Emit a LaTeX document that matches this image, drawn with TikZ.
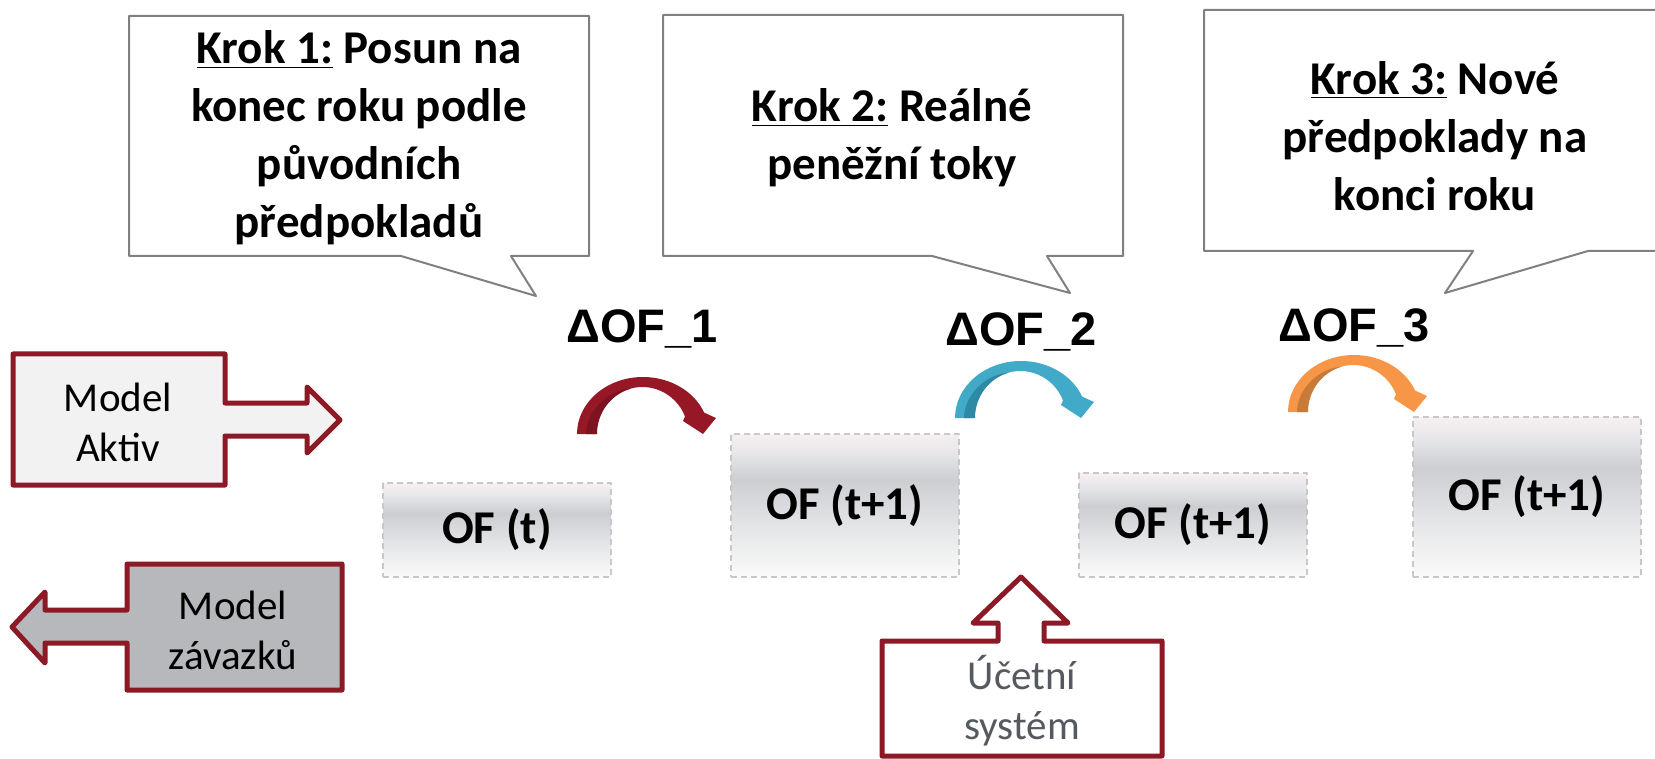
\documentclass[tikz,border=0pt]{standalone}
\usepackage{fontspec}
\setmainfont{Carlito}
\newfontfamily\arialfont{Liberation Sans}
\usetikzlibrary{positioning}

% ---- colours ----
\definecolor{modelred}{RGB}{139,26,38}
\definecolor{calloutgray}{RGB}{128,128,128}
\definecolor{dashgray}{RGB}{200,200,200}
\definecolor{aktivfill}{RGB}{242,242,242}
\definecolor{zavfill}{RGB}{183,184,188}
\definecolor{ucettext}{RGB}{85,89,96}
\definecolor{oftop}{RGB}{248,240,242}
\definecolor{ofmid}{RGB}{205,206,210}
\definecolor{oflow}{RGB}{229,230,232}
\definecolor{ofbot}{RGB}{250,250,250}
\definecolor{redarrow}{RGB}{150,24,38}
\definecolor{redshade}{RGB}{124,19,30}
\definecolor{bluearrow}{RGB}{64,170,200}
\definecolor{blueshade}{RGB}{46,138,164}
\definecolor{orangearrow}{RGB}{247,150,70}
\definecolor{orangeshade}{RGB}{200,122,56}

% box shading: 25bp = bottom of box, 75bp = top of box
\pgfdeclareverticalshading{ofshading}{100bp}{color(0bp)=(ofbot); color(25bp)=(ofbot);
  color(42bp)=(oflow); color(59bp)=(ofmid); color(68bp)=(oflow); color(75bp)=(oftop); color(100bp)=(oftop)}

% ---- curved step arrow, #1,#2 = outer foot, #3 = colour, #4 = shade ----
\newcommand{\steparc}[4]{%
  \begin{scope}[shift={(#1,#2)}]
    \fill[#3] (0,0) arc[start angle=180, end angle=338, x radius=66, y radius=57]
      -- (139,-16) -- (126,0) -- (106,-13) -- (108,-17.6)
      arc[start angle=338, end angle=180, x radius=46, y radius=47] -- cycle;
    \fill[#4] (20,0) arc[start angle=180, end angle=255, x radius=46, y radius=47]
      .. controls (30,-44) and (9,-22) .. (9,0) -- cycle;
  \end{scope}}

\begin{document}
\begin{tikzpicture}[
  x=0.5pt, y=-0.5pt, % one reference pixel
  line join=round,
  callout/.style={fill=white, draw=calloutgray, line width=1pt},
  blockarrow/.style={draw=modelred, line width=2.5pt},
  ofbox/.style={draw=dashgray, line width=0.75pt, dash pattern=on 3pt off 2pt,
    shading=ofshading, minimum width=114pt, inner sep=0pt,
    font=\bfseries\fontsize{23.5}{29}\selectfont},
  steptext/.style={font=\bfseries\fontsize{23.5}{29}\selectfont, align=center},
  deltalabel/.style={font=\arialfont\bfseries\fontsize{23.5}{28}\selectfont, anchor=base, inner sep=0pt},
  modeltext/.style={font=\fontsize{20.5}{25}\selectfont, align=center}
]
  \useasboundingbox (0,0) rectangle (1655,759);
  \clip (0,0) rectangle (1655,759);

  % ---- callouts ----
  \draw[callout] (129,16) -- (589,16) -- (589,256) -- (511,256) -- (536,296)
    -- (401,256) -- (129,256) -- cycle;
  \draw[callout] (663,15) -- (1123,15) -- (1123,256) -- (1047,256) -- (1070,293)
    -- (932,256) -- (663,256) -- cycle;
  \draw[callout] (1204,10) -- (1670,10) -- (1670,251) -- (1588,251) -- (1445,293)
    -- (1473,251) -- (1204,251) -- cycle;

  \node[steptext] (krok1) at (359,138) {\underline{Krok 1:} Posun na\\konec roku podle\\původních\\předpokladů};
  \node[steptext] (krok2) at (892,138) {\underline{Krok 2:} Reálné\\peněžní toky};
  \node[steptext] (krok3) at (1435,136) {\underline{Krok 3:} Nové\\předpoklady na\\konci roku};

  % ---- OF boxes ----
  \node[ofbox, minimum height=47pt] (oft) at (497,530) {OF (t)};
  \node[ofbox, minimum height=71.5pt] (ofa) at (845,505.5) {OF (t+1)};
  \node[ofbox, minimum height=52pt] (ofb) at (1193,525) {OF (t+1)};
  \node[ofbox, minimum height=80pt] (ofc) at (1527,497) {OF (t+1)};

  % ---- delta labels and arrows ----
  \node[deltalabel] (delta1) at (642,343) {ΔOF\_1};
  \node[deltalabel] (delta2) at (1021,345) {ΔOF\_2};
  \node[deltalabel] (delta3) at (1354,342) {ΔOF\_3};

  \steparc{577}{434}{redarrow}{redshade}
  \steparc{955}{418}{bluearrow}{blueshade}
  \steparc{1288}{412}{orangearrow}{orangeshade}

  % ---- block arrows ----
  \draw[blockarrow, fill=aktivfill] (13,354) -- (225,354) -- (225,403) -- (307,403)
    -- (307,387) -- (340,420) -- (307,453) -- (307,436) -- (225,436) -- (225,485)
    -- (13,485) -- cycle;
  \node[modeltext] (aktiv) at (118,422) {Model\\Aktiv};

  \draw[blockarrow, fill=zavfill] (342,564) -- (127,564) -- (127,610) -- (45,610)
    -- (45,592) -- (12,627) -- (45,663) -- (45,643) -- (127,643) -- (127,690)
    -- (342,690) -- cycle;
  \node[modeltext] (zavazky) at (233,630) {Model\\závazků};

  \draw[blockarrow, fill=white] (882,641) -- (998,641) -- (998,623) -- (973,623)
    -- (1021,577) -- (1068,623) -- (1044,623) -- (1044,641) -- (1162,641)
    -- (1162,756) -- (882,756) -- cycle;
  \node[modeltext, text=ucettext] (ucet) at (1022,701) {Účetní\\systém};

\end{tikzpicture}
\end{document}
